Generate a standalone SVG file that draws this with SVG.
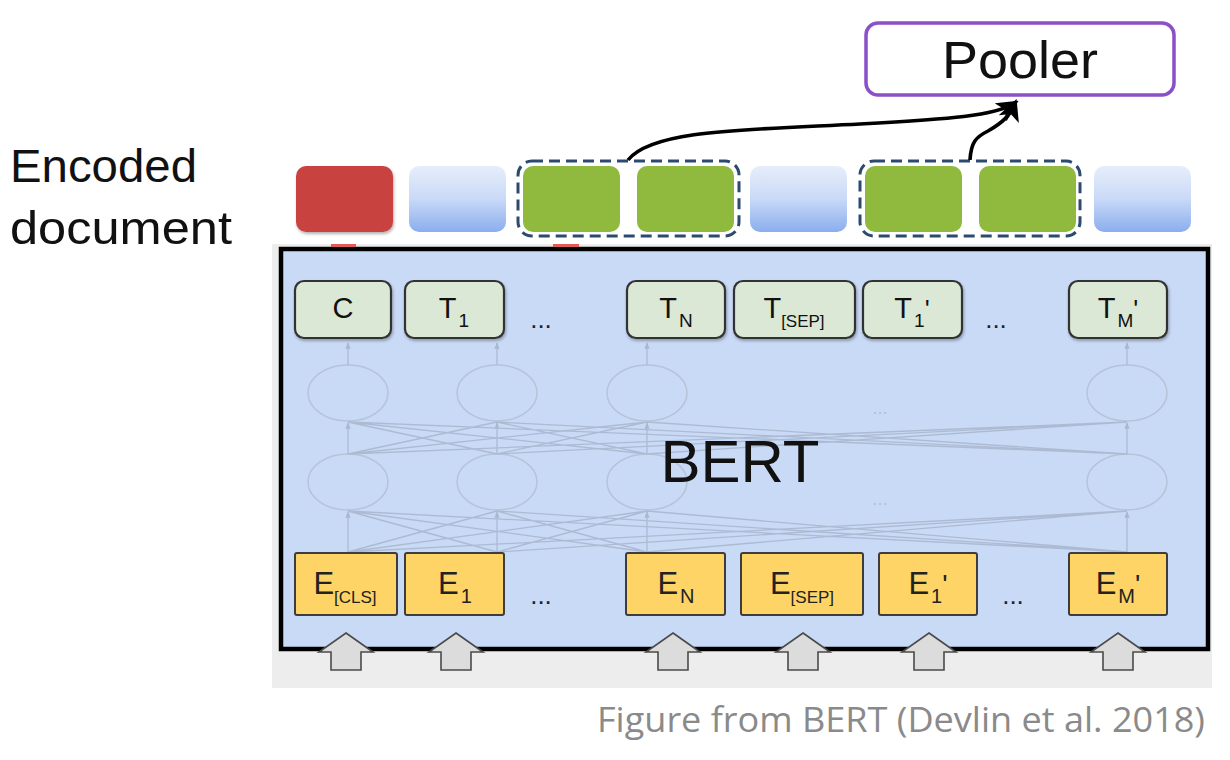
<svg xmlns="http://www.w3.org/2000/svg" width="1230" height="760" viewBox="0 0 1230 760">
<defs>
  <linearGradient id="gblue" x1="0" y1="0" x2="0" y2="1">
    <stop offset="0" stop-color="#e6eefb"/>
    <stop offset="0.5" stop-color="#c9d9f7"/>
    <stop offset="1" stop-color="#8aaeee"/>
  </linearGradient>
  <filter id="sh" x="-10%" y="-10%" width="130%" height="130%">
    <feDropShadow dx="1" dy="2" stdDeviation="1.5" flood-color="#000" flood-opacity="0.3"/>
  </filter>
  <marker id="ah" viewBox="0 0 10 10" refX="8" refY="5" markerWidth="6" markerHeight="6" orient="auto">
    <path d="M0,0 L10,5 L0,10 L2.5,5 Z" fill="#000"/>
  </marker>
  <marker id="fa" viewBox="0 0 10 10" refX="9" refY="5" markerWidth="5" markerHeight="5" orient="auto">
    <path d="M0,1 L10,5 L0,9 Z" fill="#aab8cf"/>
  </marker>
  <style>
    .lbl{font-family:"Liberation Sans",Arial,sans-serif;fill:#111;}
    .tbox{fill:#dbe8d5;stroke:#333;stroke-width:2.2;}
    .ebox{fill:#fdd465;stroke:#3d3d3d;stroke-width:2;}
    .ell{fill:none;stroke:#b6c3d8;stroke-width:1.5;}
    .net{stroke:#adbbd2;stroke-width:1.3;fill:none;}
    .vert{stroke:#adbbd2;stroke-width:1.3;fill:none;marker-end:url(#fa);}
    .blk{fill:#dcdcdc;stroke:#4a4a4a;stroke-width:1.6;stroke-linejoin:miter;}
    .dash{fill:none;stroke:#2c4a6e;stroke-width:3;stroke-dasharray:11 6;}
    .dots{font-family:"Liberation Sans",Arial,sans-serif;font-size:26px;fill:#222;}
    .fdots{font-family:"Liberation Sans",Arial,sans-serif;font-size:18px;fill:#b3bfd3;}
    .tl{font-family:"Liberation Sans",Arial,sans-serif;font-size:29px;fill:#111;text-anchor:middle;}
    .el{font-family:"Liberation Sans",Arial,sans-serif;font-size:31px;fill:#222;text-anchor:middle;}
  </style>
</defs>

<rect width="1230" height="760" fill="#ffffff"/>

<!-- side label -->
<g id="label-encoded">
  <text class="lbl" x="10" y="182" font-size="47" font-family="'Open Sans','Liberation Sans',sans-serif" textLength="187" lengthAdjust="spacingAndGlyphs">Encoded</text>
  <text class="lbl" x="10" y="244" font-size="47" font-family="'Open Sans','Liberation Sans',sans-serif" textLength="222" lengthAdjust="spacingAndGlyphs">document</text>
</g>

<!-- Pooler -->
<g id="pooler">
  <rect x="866" y="23" width="308" height="72" rx="12" fill="#fff" stroke="#8a50c8" stroke-width="3.5"/>
  <text class="lbl" x="1020" y="78" font-size="52" text-anchor="middle" textLength="156" lengthAdjust="spacingAndGlyphs">Pooler</text>
</g>

<!-- encoded document vectors -->
<g id="encoded-row">
  <rect x="296" y="166" width="97" height="66" rx="10" fill="#c84341" filter="url(#sh)"/>
  <rect x="409" y="166" width="97" height="66" rx="10" fill="url(#gblue)"/>
  <rect x="523" y="166" width="97" height="66" rx="10" fill="#8fba3e"/>
  <rect x="637" y="166" width="97" height="66" rx="10" fill="#8fba3e"/>
  <rect x="750" y="166" width="97" height="66" rx="10" fill="url(#gblue)"/>
  <rect x="865" y="166" width="97" height="66" rx="10" fill="#8fba3e"/>
  <rect x="979" y="166" width="97" height="66" rx="10" fill="#8fba3e"/>
  <rect x="1094" y="166" width="97" height="66" rx="10" fill="url(#gblue)"/>
</g>
<g id="span-groups">
  <rect class="dash" x="518" y="161" width="221" height="75" rx="14"/>
  <rect class="dash" x="860" y="161" width="220" height="75" rx="14"/>
</g>

<!-- connectors to pooler -->
<g id="connectors">
  <path d="M628,160 C 652,130 740,130 860,124 C 950,119 995,116 1015,103" fill="none" stroke="#000" stroke-width="3.6" marker-end="url(#ah)"/>
  <path d="M970,160 C 971,142 976,137 988,131 C 1002,123 1010,116 1015,103" fill="none" stroke="#000" stroke-width="3.6" marker-end="url(#ah)"/>
</g>

<!-- BERT block -->
<g id="bert">
  <rect x="272" y="244" width="940" height="444" fill="#ededed"/>
  <rect x="281" y="249" width="927" height="400" fill="#c9daf7" stroke="#000" stroke-width="4.5"/>
  <rect x="331" y="244" width="25" height="3" fill="#e25a5a"/>
  <rect x="553" y="244" width="26" height="3" fill="#e25a5a"/>

  <!-- faint network -->
  <g id="network">
    <ellipse class="ell" cx="348" cy="393" rx="40" ry="28"/>
    <ellipse class="ell" cx="497" cy="393" rx="40" ry="28"/>
    <ellipse class="ell" cx="647" cy="393" rx="40" ry="28"/>
    <ellipse class="ell" cx="1127" cy="393" rx="40" ry="28"/>
    <ellipse class="ell" cx="348" cy="482" rx="40" ry="28"/>
    <ellipse class="ell" cx="497" cy="482" rx="40" ry="28"/>
    <ellipse class="ell" cx="647" cy="482" rx="40" ry="28"/>
    <ellipse class="ell" cx="1127" cy="482" rx="40" ry="28"/>

    <path class="vert" d="M348,365 V343"/><path class="vert" d="M497,365 V343"/>
    <path class="vert" d="M647,365 V343"/><path class="vert" d="M1127,365 V343"/>
    <path class="vert" d="M348,454 V423"/><path class="vert" d="M497,454 V423"/>
    <path class="vert" d="M647,454 V423"/><path class="vert" d="M1127,454 V423"/>
    <path class="vert" d="M348,552 V512"/><path class="vert" d="M497,552 V512"/>
    <path class="vert" d="M647,552 V512"/><path class="vert" d="M1127,552 V512"/>

    <path class="net" d="M348,454 L497,422 M348,454 L647,422 M348,454 L1127,422
      M497,454 L348,422 M497,454 L647,422 M497,454 L1127,422
      M647,454 L348,422 M647,454 L497,422 M647,454 L1127,422
      M1127,454 L348,422 M1127,454 L497,422 M1127,454 L647,422"/>
    <path class="net" d="M348,552 L497,511 M348,552 L647,511 M348,552 L1127,511
      M497,552 L348,511 M497,552 L647,511 M497,552 L1127,511
      M647,552 L348,511 M647,552 L497,511 M647,552 L1127,511
      M1127,552 L348,511 M1127,552 L497,511 M1127,552 L647,511"/>
    <text class="fdots" x="880" y="414" text-anchor="middle">...</text>
    <text class="fdots" x="880" y="505" text-anchor="middle">...</text>
  </g>

  <text class="lbl" x="740" y="482" font-size="60" text-anchor="middle">BERT</text>
</g>

<!-- T tokens -->
<g id="t-c"><rect class="tbox" x="295" y="281" width="96" height="57" rx="9" filter="url(#sh)"/><text class="tl" x="343" y="318">C</text></g>
<g id="t-1"><rect class="tbox" x="405" y="281" width="99" height="57" rx="9" filter="url(#sh)"/><text class="tl" x="454" y="318">T<tspan font-size="19" dy="9" dx="2">1</tspan></text></g>
<text class="dots" x="541" y="328" text-anchor="middle">...</text>
<g id="t-n"><rect class="tbox" x="627" y="281" width="98" height="57" rx="9" filter="url(#sh)"/><text class="tl" x="676" y="318">T<tspan font-size="19" dy="9" dx="2">N</tspan></text></g>
<g id="t-sep"><rect class="tbox" x="734" y="281" width="121" height="57" rx="9" filter="url(#sh)"/><text class="tl" x="794" y="318">T<tspan font-size="17" dy="9">[SEP]</tspan></text></g>
<g id="t-1p"><rect class="tbox" x="863" y="281" width="99" height="57" rx="9" filter="url(#sh)"/><text class="tl" x="912" y="318">T<tspan font-size="19" dy="9" dx="2">1</tspan><tspan dy="-9" font-size="26">'</tspan></text></g>
<text class="dots" x="996" y="328" text-anchor="middle">...</text>
<g id="t-mp"><rect class="tbox" x="1069" y="281" width="98" height="57" rx="9" filter="url(#sh)"/><text class="tl" x="1118" y="318">T<tspan font-size="19" dy="9" dx="2">M</tspan><tspan dy="-9" font-size="26">'</tspan></text></g>

<!-- E embeddings -->
<g id="e-cls"><rect class="ebox" x="295" y="553" width="102" height="62" rx="2"/><text class="el" x="345" y="594">E<tspan font-size="17" dy="9">[CLS]</tspan></text></g>
<g id="e-1"><rect class="ebox" x="405" y="553" width="99" height="62" rx="2"/><text class="el" x="455" y="594">E<tspan font-size="20" dy="9" dx="2">1</tspan></text></g>
<text class="dots" x="541" y="604" text-anchor="middle">...</text>
<g id="e-n"><rect class="ebox" x="626" y="553" width="99" height="62" rx="2"/><text class="el" x="676" y="594">E<tspan font-size="20" dy="9" dx="2">N</tspan></text></g>
<g id="e-sep"><rect class="ebox" x="741" y="553" width="122" height="62" rx="2"/><text class="el" x="802" y="594">E<tspan font-size="17" dy="9">[SEP]</tspan></text></g>
<g id="e-1p"><rect class="ebox" x="879" y="553" width="98" height="62" rx="2"/><text class="el" x="928" y="594">E<tspan font-size="20" dy="9" dx="2">1</tspan><tspan dy="-9" font-size="28">'</tspan></text></g>
<text class="dots" x="1013" y="604" text-anchor="middle">...</text>
<g id="e-mp"><rect class="ebox" x="1069" y="553" width="98" height="62" rx="2"/><text class="el" x="1118" y="594">E<tspan font-size="20" dy="9" dx="2">M</tspan><tspan dy="-9" font-size="28">'</tspan></text></g>

<!-- input block arrows -->
<g id="inputs">
  <polygon class="blk" points="346,633 373,652 361,652 361,670 331,670 331,652 319,652"/>
  <polygon class="blk" points="456,633 483,652 471,652 471,670 441,670 441,652 429,652"/>
  <polygon class="blk" points="673,633 700,652 688,652 688,670 658,670 658,652 646,652"/>
  <polygon class="blk" points="803,633 830,652 818,652 818,670 788,670 788,652 776,652"/>
  <polygon class="blk" points="929,633 956,652 944,652 944,670 914,670 914,652 902,652"/>
  <polygon class="blk" points="1118,633 1145,652 1133,652 1133,670 1103,670 1103,652 1091,652"/>
</g>

<!-- caption -->
<text id="caption" x="597" y="732" font-family="'Open Sans','Liberation Sans',sans-serif" font-size="35" fill="#8a8a8a" textLength="608" lengthAdjust="spacingAndGlyphs">Figure from BERT (Devlin et al. 2018)</text>
</svg>
